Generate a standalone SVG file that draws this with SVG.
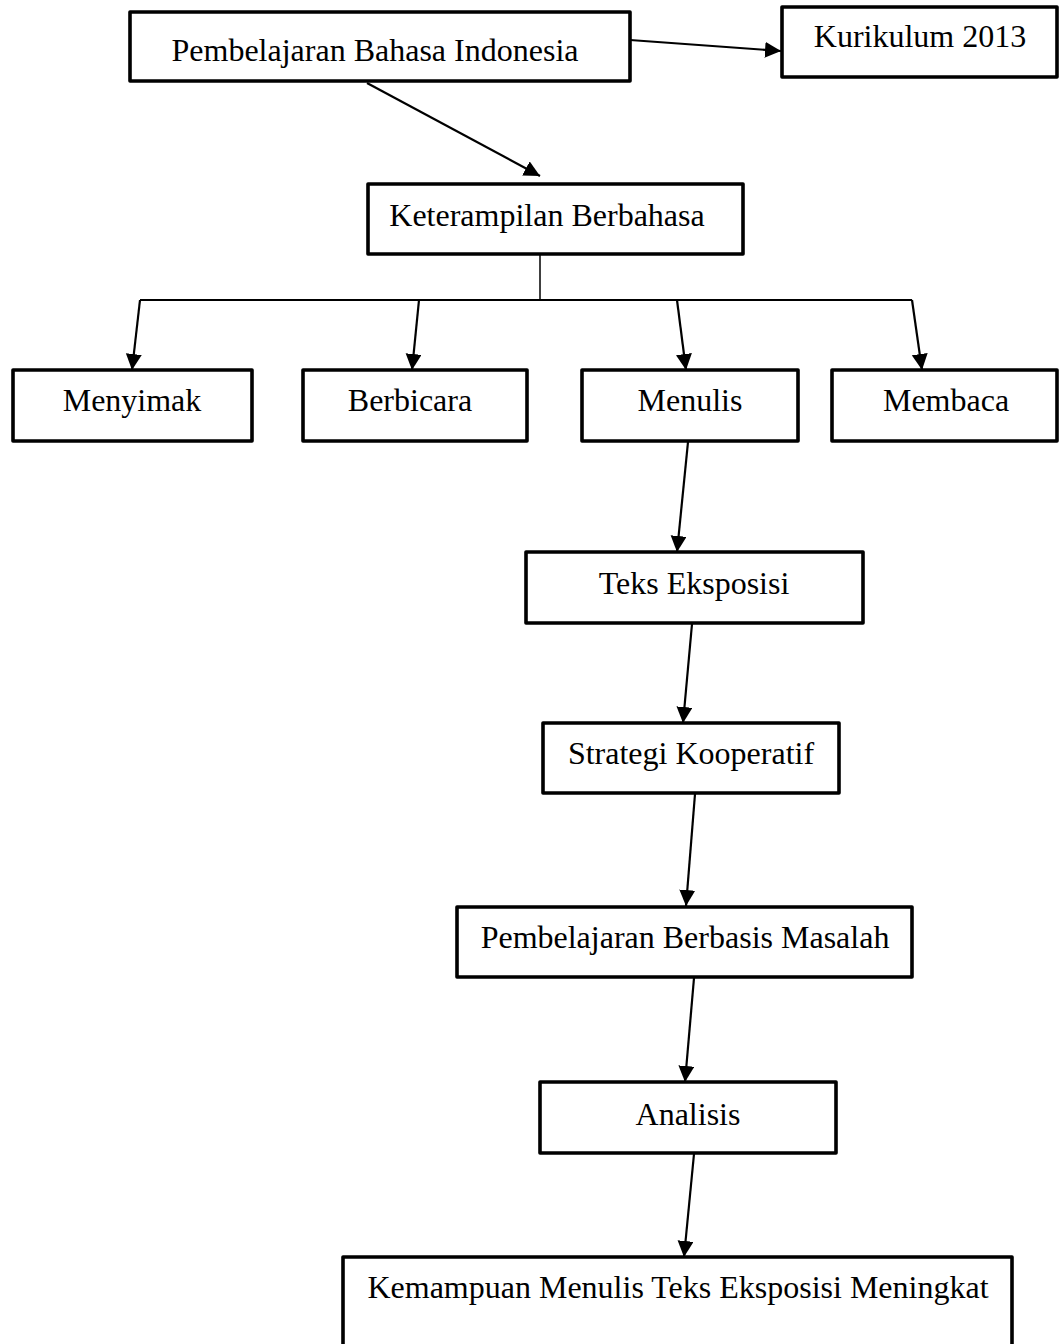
<svg xmlns="http://www.w3.org/2000/svg" width="1059" height="1344" viewBox="0 0 1059 1344">
<style>
.box{fill:#fff;stroke:#000;stroke-width:3.6;stroke-linejoin:round}
.lbl{font-family:"Liberation Serif","Times New Roman",serif;font-size:32px;fill:#000;text-anchor:middle}
.con{stroke:#000;stroke-width:2.2;fill:none}
</style>
<defs>
<marker id="ah" markerUnits="userSpaceOnUse" markerWidth="18" markerHeight="18" refX="16" refY="8" orient="auto">
<path d="M0,0 L16,8 L0,16 z" fill="#000"/>
</marker>
</defs>
<rect width="1059" height="1344" fill="#fff"/>
<g id="connectors">
<line class="con" x1="630" y1="40" x2="781" y2="51" marker-end="url(#ah)"/>
<line class="con" x1="367" y1="83" x2="540" y2="176" marker-end="url(#ah)"/>
<line class="con" x1="540" y1="255" x2="540" y2="300" style="stroke-width:1.5"/>
<line class="con" x1="140" y1="300" x2="912" y2="300"/>
<line class="con" x1="140" y1="300" x2="132" y2="370" marker-end="url(#ah)"/>
<line class="con" x1="419" y1="300" x2="412" y2="370" marker-end="url(#ah)"/>
<line class="con" x1="677" y1="300" x2="686" y2="370" marker-end="url(#ah)"/>
<line class="con" x1="912" y1="300" x2="922" y2="370" marker-end="url(#ah)"/>
<line class="con" x1="688" y1="442" x2="677" y2="552" marker-end="url(#ah)"/>
<line class="con" x1="692" y1="624" x2="683" y2="723" marker-end="url(#ah)"/>
<line class="con" x1="695" y1="794" x2="686" y2="906" marker-end="url(#ah)"/>
<line class="con" x1="694" y1="978" x2="685" y2="1082" marker-end="url(#ah)"/>
<line class="con" x1="694" y1="1154" x2="684" y2="1257" marker-end="url(#ah)"/>
</g>
<g id="n-pbi"><rect class="box" x="130" y="12" width="500" height="69"/><text class="lbl" x="375" y="61">Pembelajaran Bahasa Indonesia</text></g>
<g id="n-kurikulum"><rect class="box" x="782" y="7" width="275" height="70"/><text class="lbl" x="920" y="47">Kurikulum 2013</text></g>
<g id="n-keterampilan"><rect class="box" x="368" y="184" width="375" height="70"/><text class="lbl" x="547" y="226">Keterampilan Berbahasa</text></g>
<g id="n-menyimak"><rect class="box" x="13" y="370" width="239" height="71"/><text class="lbl" x="132" y="411">Menyimak</text></g>
<g id="n-berbicara"><rect class="box" x="303" y="370" width="224" height="71"/><text class="lbl" x="410" y="411">Berbicara</text></g>
<g id="n-menulis"><rect class="box" x="582" y="370" width="216" height="71"/><text class="lbl" x="690" y="411">Menulis</text></g>
<g id="n-membaca"><rect class="box" x="832" y="370" width="225" height="71"/><text class="lbl" x="946" y="411">Membaca</text></g>
<g id="n-teks"><rect class="box" x="526" y="552" width="337" height="71"/><text class="lbl" x="694" y="594">Teks Eksposisi</text></g>
<g id="n-strategi"><rect class="box" x="543" y="723" width="296" height="70"/><text class="lbl" x="691" y="764">Strategi Kooperatif</text></g>
<g id="n-pbm"><rect class="box" x="457" y="907" width="455" height="70"/><text class="lbl" x="685" y="948">Pembelajaran Berbasis Masalah</text></g>
<g id="n-analisis"><rect class="box" x="540" y="1082" width="296" height="71"/><text class="lbl" x="688" y="1125">Analisis</text></g>
<g id="n-kemampuan"><rect class="box" x="343" y="1257" width="669" height="120"/><text class="lbl" x="678" y="1298">Kemampuan Menulis Teks Eksposisi Meningkat</text></g>
</svg>
